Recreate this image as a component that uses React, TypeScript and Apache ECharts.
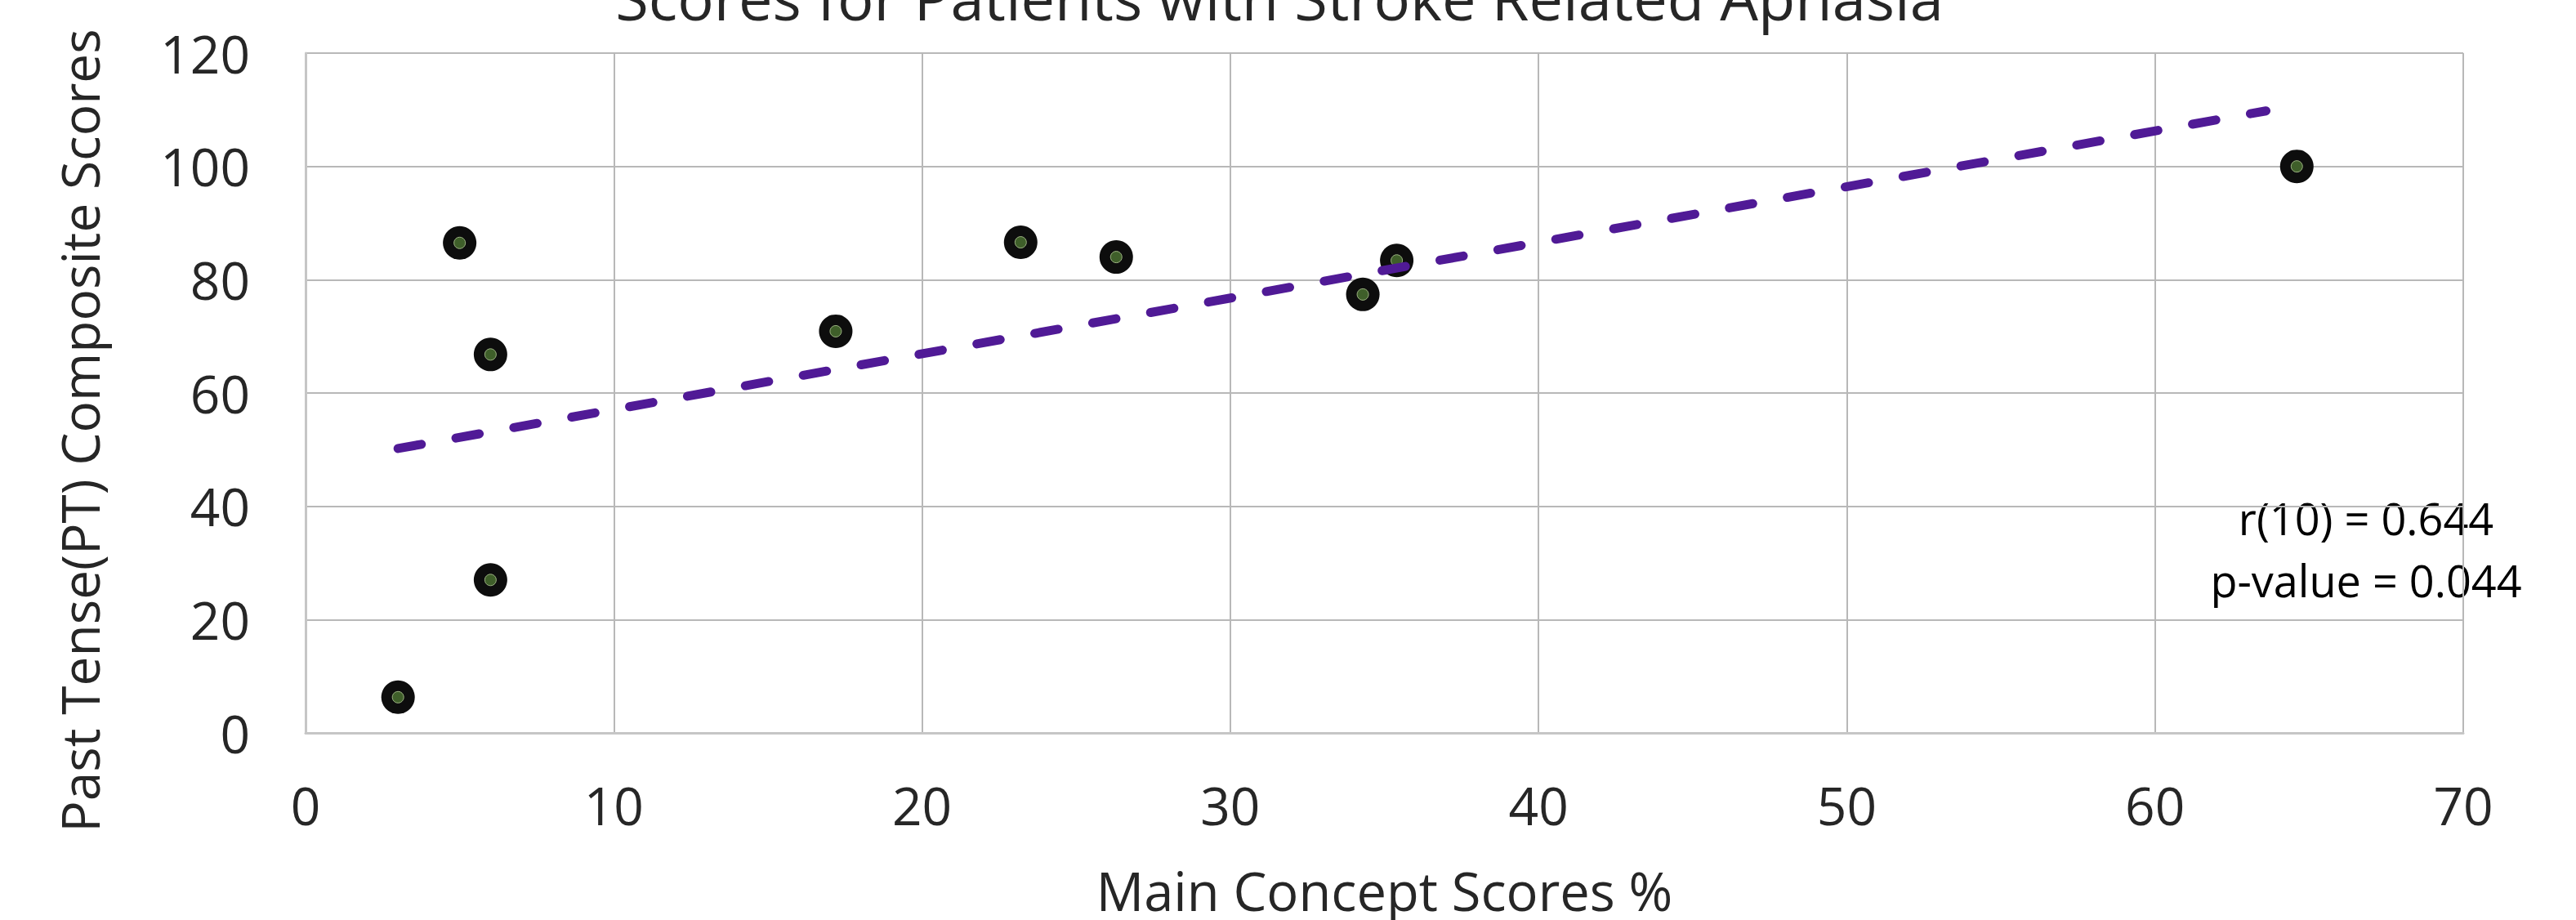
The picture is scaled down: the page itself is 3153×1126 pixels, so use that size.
import React, { useEffect, useRef } from "react";
import * as echarts from "echarts";

const titleText = "Scores for Patients with Stroke Related Aphasia";
const xAxisName = "Main Concept Scores %";
const yAxisName = "Past Tense(PT) Composite Scores";
const statLines = ["r(10) = 0.644", "p-value = 0.044"];

const mainConceptScores = [3.0, 5.0, 6.0, 6.0, 17.2, 23.2, 26.3, 34.3, 35.4, 64.6];
const ptCompositeScores = [6.3, 86.5, 66.8, 27.0, 70.9, 86.6, 84.0, 77.4, 83.4, 100.0];

const trendX = [3.0, 63.6];
const trendY = [50.2, 109.8];

const xMin = 0, xMax = 70, xStep = 10;
const yMin = 0, yMax = 120, yStep = 20;

const FONT = "'Open Sans', 'Noto Sans', sans-serif";
const TEXT = "#262626";

export default function App() {
  const ref = useRef<HTMLDivElement>(null);

  useEffect(() => {
    document.body.style.margin = "0";
    if (!ref.current) return;
    const chart = echarts.init(ref.current, undefined, { renderer: "svg" });
    const points = mainConceptScores.map((x, i) => [x, ptCompositeScores[i]]);
    const trend = trendX.map((x, i) => [x, trendY[i]]);

    chart.setOption({
      animation: false,
      backgroundColor: "#ffffff",
      textStyle: { fontFamily: FONT },
      grid: {
        left: 374,
        right: 138,
        top: 65,
        bottom: 229,
        containLabel: false,
        outerBoundsMode: "none",
      },
      xAxis: {
        type: "value",
        min: xMin,
        max: xMax,
        interval: xStep,
        name: xAxisName,
        nameLocation: "middle",
        nameGap: 160,
        nameTextStyle: { fontFamily: FONT, fontSize: 65, color: TEXT },
        axisLine: { show: true, lineStyle: { color: "#c6c6c6", width: 3 } },
        axisTick: { show: false },
        axisLabel: { fontFamily: FONT, fontSize: 64, color: TEXT, margin: 56 },
        splitLine: { show: true, lineStyle: { color: "#b8b8b8", width: 2 } },
      },
      yAxis: {
        type: "value",
        min: yMin,
        max: yMax,
        interval: yStep,
        axisLine: { show: true, lineStyle: { color: "#c6c6c6", width: 3 } },
        axisTick: { show: false },
        axisLabel: { fontFamily: FONT, fontSize: 64, color: TEXT, margin: 68 },
        splitLine: { show: true, lineStyle: { color: "#b8b8b8", width: 2 } },
      },
      series: [
        {
          type: "scatter",
          name: "outer",
          data: points,
          symbol: "circle",
          symbolSize: 41,
          itemStyle: { color: "#0d0d0d", opacity: 1 },
          z: 2,
        },
        {
          type: "scatter",
          name: "inner",
          data: points,
          symbol: "circle",
          symbolSize: 14,
          itemStyle: { color: "#3f5f2a", borderColor: "#9fb585", borderWidth: 1, opacity: 1 },
          z: 3,
        },
        {
          type: "line",
          name: "trend",
          data: trend,
          symbol: "none",
          lineStyle: { color: "#501a96", width: 11, type: [29, 43], cap: "round" },
          z: 4,
        },
      ],
      graphic: [
        {
          type: "text",
          x: 1566,
          y: -4,
          style: {
            text: titleText,
            fontFamily: FONT,
            fontSize: 74,
            fill: TEXT,
            align: "center",
            verticalAlign: "middle",
          },
        },
        {
          type: "text",
          x: 97,
          y: 527,
          rotation: Math.PI / 2,
          style: {
            text: yAxisName,
            fontFamily: FONT,
            fontSize: 64,
            fill: TEXT,
            align: "center",
            verticalAlign: "middle",
          },
        },
        {
          type: "text",
          x: 2896,
          y: 634,
          style: {
            text: statLines[0],
            fontFamily: FONT,
            fontSize: 54,
            fill: "#000000",
            align: "center",
            verticalAlign: "middle",
          },
        },
        {
          type: "text",
          x: 2896,
          y: 710,
          style: {
            text: statLines[1],
            fontFamily: FONT,
            fontSize: 54,
            fill: "#000000",
            align: "center",
            verticalAlign: "middle",
          },
        },
      ],
    });

    return () => chart.dispose();
  }, []);

  return <div ref={ref} style={{ width: 3153, height: 1126 }} />;
}
